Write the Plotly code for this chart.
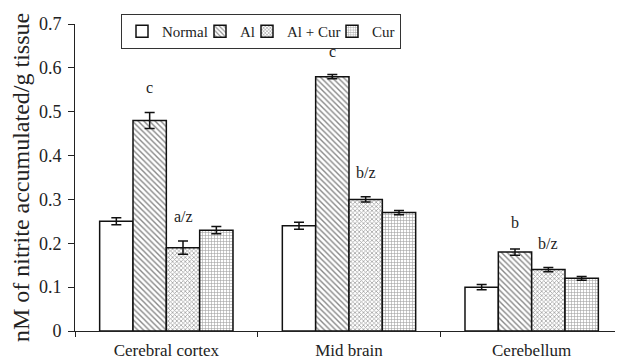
import plotly.graph_objects as go

categories = ["Cerebral cortex", "Mid brain", "Cerebellum"]
series_names = ["Normal", "Al", "Al + Cur", "Cur"]
normal = [0.25, 0.24, 0.10]
al = [0.48, 0.58, 0.18]
al_cur = [0.19, 0.30, 0.14]
cur = [0.23, 0.27, 0.12]
err_normal = [0.008, 0.008, 0.006]
err_al = [0.018, 0.005, 0.007]
err_al_cur = [0.015, 0.006, 0.005]
err_cur = [0.008, 0.005, 0.004]
# significance labels: (category index, series index, label, y)
sig_labels = [(0, 1, "c", 0.556), (0, 2, "a/z", 0.262), (1, 1, "c", 0.638),
              (1, 2, "b/z", 0.362), (2, 1, "b", 0.248), (2, 2, "b/z", 0.200)]

values = [normal, al, al_cur, cur]
errors = [err_normal, err_al, err_al_cur, err_cur]
patterns = [dict(shape=""),
            dict(shape="\\", size=4, solidity=0.35, fgcolor="#111"),
            dict(shape="x", size=3, solidity=0.45, fgcolor="#444"),
            dict(shape="+", size=3, solidity=0.35, fgcolor="#444")]
legend_widths = [33, 2, 40, None]

# the page body adds an 8px offset, so the figure is laid out 8px smaller
W, H = 615, 352
FONT = "Liberation Serif, Times New Roman, serif"
fig = go.Figure()
for name, v, e, p, lw in zip(series_names, values, errors, patterns, legend_widths):
    fig.add_trace(go.Bar(
        name=name, x=categories, y=v, legendwidth=lw,
        marker=dict(color="white", line=dict(color="#111", width=1.5), pattern=p),
        error_y=dict(type="data", array=e, color="#111", thickness=1.5, width=5),
    ))

bargap = 0.27
bw = (1 - bargap) / 4
for ci, si, lab, yv in sig_labels:
    fig.add_annotation(x=ci + (si - 1.5) * bw, y=yv, text=lab, showarrow=False,
                       xref="x", yref="y", yanchor="middle",
                       font=dict(family=FONT, size=16, color="#222"))

fig.update_layout(
    width=W, height=H,
    margin=dict(l=67, r=0, t=16, b=29, autoexpand=False),
    barmode="group", bargap=bargap, bargroupgap=0,
    plot_bgcolor="white", paper_bgcolor="white",
    font=dict(family=FONT, size=16, color="#222"),
    showlegend=True,
    legend=dict(orientation="h", xref="container", yref="container",
                x=113 / W, y=1 - 6 / H, xanchor="left", yanchor="top",
                bordercolor="#333", borderwidth=1, font=dict(size=15),
                itemwidth=30, tracegroupgap=0),
    xaxis=dict(showline=True, linecolor="#222", linewidth=1, ticks="outside",
               tickson="boundaries", ticklen=5, tickcolor="#222", automargin=False,
               tickfont=dict(size=17), range=[-0.5, 2.5], ticklabelstandoff=4),
    yaxis=dict(range=[0, 0.7], dtick=0.1, showline=True, linecolor="#222", linewidth=1,
               ticks="outside", ticklen=6, tickcolor="#222", showgrid=False,
               zeroline=False, tickformat="~g", tickfont=dict(size=18), automargin=False,
               ticklabelstandoff=3,
               title=dict(text="nM of nitrite accumulated/g tissue",
                          font=dict(size=24), standoff=6)),
)
fig.write_html("out.html")
